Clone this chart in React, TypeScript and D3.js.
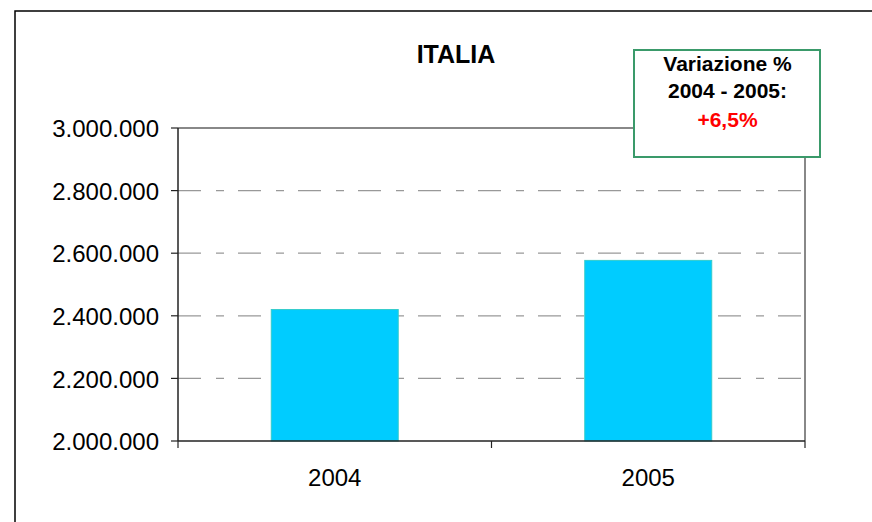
import React from "react";
import * as d3 from "d3";

const categories = ["2004", "2005"];
const values = [2420000, 2577000];
const yTicks = [2000000, 2200000, 2400000, 2600000, 2800000, 3000000];
const title = "ITALIA";
const boxLines = ["Variazione %", "2004 - 2005:"];
const boxValue = "+6,5%";

const W = 872;
const H = 522;
const left = 178;
const right = 805;
const top = 128;
const bottom = 441;

const fmt = (v: number) =>
  d3.format(",")(v).replace(/,/g, ".");

export default function App() {
  const x = d3.scaleBand<string>().domain(categories).range([left, right]).paddingInner(0.595).paddingOuter(0.2975);
  const xb = d3.scaleBand<string>().domain(categories).range([left, right]);
  const y = d3.scaleLinear().domain([2000000, 3000000]).range([bottom, top]);
  const font = "'Liberation Sans', Arial, sans-serif";
  return (
    <svg width={W} height={H} style={{ position: "absolute", left: 0, top: 0, background: "#fff" }} fontFamily={font}>
      <rect x={15} y={11} width={W} height={H} fill="#fff" stroke="#000" strokeWidth={1.5} />
      {yTicks.slice(1, -1).map((t) => (
        <line key={t} x1={left} x2={right} y1={y(t)} y2={y(t)} stroke="#999" strokeWidth={1.2} strokeDasharray="23 15 8 14" />
      ))}
      {categories.map((c, i) => (
        <rect key={c} x={x(c)!} y={y(values[i])} width={x.bandwidth()} height={bottom - y(values[i])} fill="#00ccff" stroke="#33cccc" strokeWidth={1} />
      ))}
      <line x1={left} x2={right} y1={top} y2={top} stroke="#888" strokeWidth={2} />
      <line x1={right} x2={right} y1={top} y2={bottom} stroke="#888" strokeWidth={2} />
      <line x1={left} x2={left} y1={top} y2={bottom} stroke="#222" strokeWidth={1.5} />
      <line x1={left} x2={right} y1={bottom} y2={bottom} stroke="#222" strokeWidth={1.5} />
      {yTicks.map((t) => (
        <g key={t}>
          <line x1={left - 7} x2={left} y1={y(t)} y2={y(t)} stroke="#222" strokeWidth={1.2} />
          <text x={159} y={y(t) + 0.7} dy="0.35em" textAnchor="end" fontSize={24} fill="#000">{fmt(t)}</text>
        </g>
      ))}
      {[...categories.map((c) => xb(c)!), right].map((px, i) => (
        <line key={i} x1={px} x2={px} y1={bottom} y2={bottom + 7} stroke="#222" strokeWidth={1.2} />
      ))}
      {categories.map((c) => (
        <text key={c} x={xb(c)! + xb.bandwidth() / 2} y={478} dy="0.35em" textAnchor="middle" fontSize={24} fill="#000">{c}</text>
      ))}
      <text x={456} y={54} dy="0.35em" textAnchor="middle" fontSize={25} fontWeight="bold" fill="#000">{title}</text>
      <rect x={634} y={50} width={186} height={107} fill="#fff" stroke="#3a9a6a" strokeWidth={2} />
      {boxLines.map((l, i) => (
        <text key={l} x={727.5} y={64 + i * 27} dy="0.35em" textAnchor="middle" fontSize={21} fontWeight="bold" fill="#000">{l}</text>
      ))}
      <text x={727.5} y={120} dy="0.35em" textAnchor="middle" fontSize={21} fontWeight="bold" fill="#ff0000">{boxValue}</text>
    </svg>
  );
}
